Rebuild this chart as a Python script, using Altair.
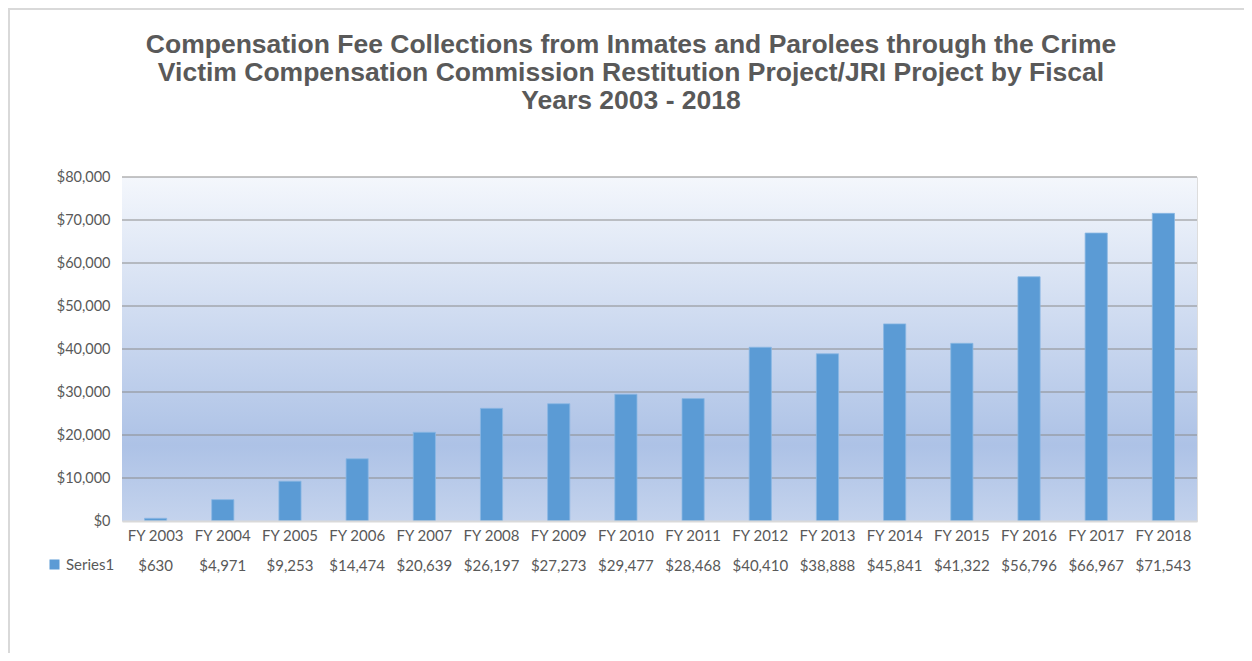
import altair as alt
import pandas as pd

years = ["FY 2003", "FY 2004", "FY 2005", "FY 2006", "FY 2007", "FY 2008", "FY 2009", "FY 2010",
         "FY 2011", "FY 2012", "FY 2013", "FY 2014", "FY 2015", "FY 2016", "FY 2017", "FY 2018"]
values = [630, 4971, 9253, 14474, 20639, 26197, 27273, 29477,
          28468, 40410, 38888, 45841, 41322, 56796, 66967, 71543]
series_name = "Series1"
y_ticks = [0, 10000, 20000, 30000, 40000, 50000, 60000, 70000, 80000]
grid_values = y_ticks[1:]
title_lines = [
    "Compensation Fee Collections from Inmates and Parolees through the Crime",
    "Victim Compensation Commission Restitution Project/JRI Project by Fiscal",
    "Years 2003 - 2018",
]

df = pd.DataFrame({"year": years, "value": values, "series": series_name})

W, H = 1075, 344
GRAY = "#595959"
BLUE = "#5B9BD5"
FONT = "Lato"
FS = 15

xenc = alt.X(
    "year:N", sort=years, title=None,
    scale=alt.Scale(paddingInner=0.67, paddingOuter=0.335),
    axis=alt.Axis(labelAngle=0, ticks=False, domainColor="#D9D9D9", domainWidth=2,
                  labelColor=GRAY, labelFont=FONT, labelFontSize=FS, labelPadding=7,
                  grid=False, zindex=1),
)

one = pd.DataFrame({"k": [0]})

background = alt.Chart(one).mark_rect(
    color=alt.LinearGradient(gradient="linear", x1=0, y1=0, x2=0, y2=1, stops=[
        alt.GradientStop(offset=0, color="#F4F7FC"),
        alt.GradientStop(offset=0.78, color="#ADC2E6"),
        alt.GradientStop(offset=1, color="#C4D3ED"),
    ])
).encode(x=alt.value(0), x2=alt.value(W), y=alt.value(0), y2=alt.value(H))

grid = alt.Chart(pd.DataFrame({"tick": grid_values})).mark_rule(
    color="#8C8C8C", strokeWidth=1.2
).encode(y=alt.Y("tick:Q", title=None))

base = alt.Chart(df)

bars = base.mark_bar(stroke="#8AB7E3", strokeWidth=0.8).encode(
    x=xenc,
    y=alt.Y("value:Q", title=None, scale=alt.Scale(domain=[0, 80000]),
            axis=alt.Axis(values=y_ticks, format="$,.0f", domain=False, ticks=False, grid=False,
                          labelColor=GRAY, labelFont=FONT, labelFontSize=14.5, labelPadding=12)),
    color=alt.Color("series:N", scale=alt.Scale(range=[BLUE]),
                    legend=alt.Legend(orient="none", legendX=-75, legendY=380, title=None,
                                      symbolType="square", symbolSize=100, symbolStrokeWidth=0,
                                      labelColor=GRAY, labelFont=FONT, labelFontSize=FS,
                                      labelOffset=4)),
)

table = base.transform_calculate(label="format(datum.value, '$,')").mark_text(
    font=FONT, fontSize=FS, color=GRAY, baseline="middle", align="center"
).encode(x=alt.X("year:N", sort=years), y=alt.value(389), text="label:N")

title = alt.Chart(one).mark_text(
    text=title_lines, font="Liberation Sans", fontSize=26.5, fontWeight="bold",
    color=GRAY, align="center", baseline="alphabetic", lineHeight=28
).encode(x=alt.value(509), y=alt.value(-124))

left_border = alt.Chart(one).mark_rule(color="#D9D9D9", strokeWidth=2).encode(
    x=alt.value(-113), y=alt.value(-169), y2=alt.value(476))
top_border = alt.Chart(one).mark_rule(color="#D9D9D9", strokeWidth=2).encode(
    x=alt.value(-114), x2=alt.value(1122), y=alt.value(-168))

chart = alt.layer(background, grid, bars, table, title, left_border, top_border).properties(
    width=W, height=H,
    padding={"left": 114, "top": 169, "right": 47, "bottom": 132},
    autosize=alt.AutoSizeParams(type="none"),
).configure_view(stroke=None).configure(background="white")

chart.save("out.html", embed_options={"renderer": "svg", "actions": False})
